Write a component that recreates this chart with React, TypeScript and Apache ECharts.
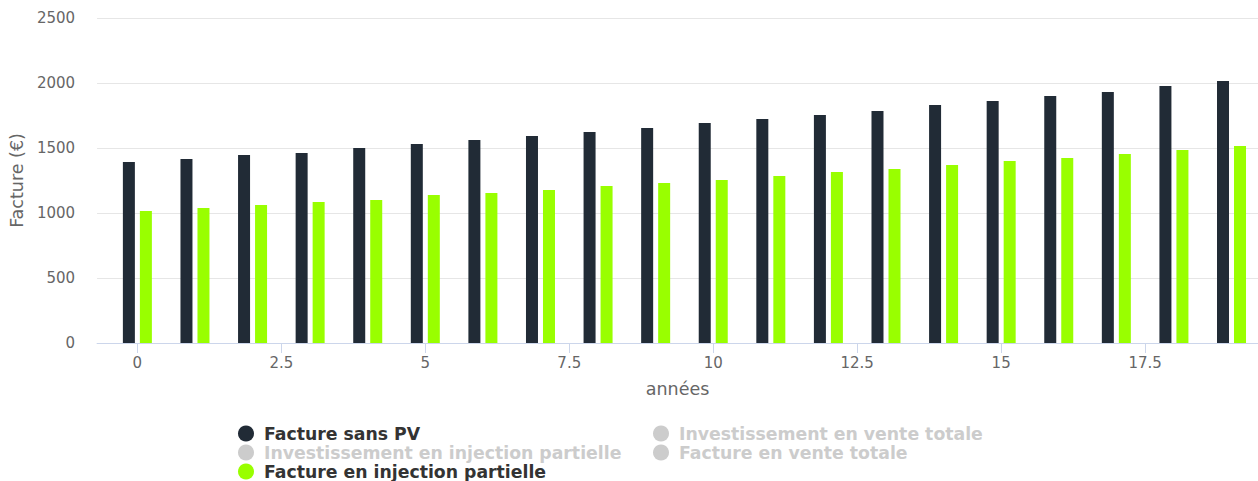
import React, { useEffect, useRef } from "react";
import * as echarts from "echarts";

const years = [0, 1, 2, 3, 4, 5, 6, 7, 8, 9, 10, 11, 12, 13, 14, 15, 16, 17, 18, 19];
const factureSansPV = [1392, 1415, 1446, 1462, 1500, 1531, 1562, 1592, 1623, 1654, 1692, 1723, 1754, 1785, 1831, 1862, 1900, 1931, 1977, 2015];
const factureInjection = [1015, 1038, 1062, 1085, 1100, 1138, 1154, 1177, 1208, 1231, 1254, 1285, 1315, 1338, 1369, 1400, 1423, 1454, 1485, 1515];
const xTicks = [0, 2.5, 5, 7.5, 10, 12.5, 15, 17.5];
const seriesNames = [
  "Facture sans PV",
  "Investissement en vente totale",
  "Investissement en injection partielle",
  "Facture en vente totale",
  "Facture en injection partielle",
];
const hiddenSeries = [seriesNames[1], seriesNames[2], seriesNames[3]];

const FONT = "DejaVu Sans";

export default function App() {
  const ref = useRef<HTMLDivElement>(null);
  useEffect(() => {
    document.body.style.margin = "0";
    const chart = echarts.init(ref.current!, null, { renderer: "svg" });
    const pairs = (vals: number[]) => years.map((x, i) => [x, vals[i]]);
    const barBase = { type: "bar", barWidth: 12, barGap: "41.7%" };
    // legend grid: [column, row] for each series, in series order
    const legendSlots = [
      [0, 0],
      [1, 0],
      [0, 1],
      [1, 1],
      [0, 2],
    ];
    const colLeft = [238, 653];
    const rowTop = [425, 444, 463];
    const legends = seriesNames.map((name, i) => ({
      icon: "circle",
      itemWidth: 16,
      itemHeight: 16,
      padding: 0,
      left: colLeft[legendSlots[i][0]],
      top: rowTop[legendSlots[i][1]],
      inactiveColor: "#cccccc",
      data: [name],
      selected: { [name]: !hiddenSeries.includes(name) },
      textStyle: {
        fontFamily: FONT,
        fontSize: 17.3,
        lineHeight: 16,
        fontWeight: "bold",
        color: "#333333",
        padding: [0, 0, 0, 5],
      },
    }));
    chart.setOption({
      animation: false,
      textStyle: { fontFamily: FONT },
      grid: { left: 97, right: 0, top: 18, bottom: 138, containLabel: false },
      legend: legends,
      xAxis: {
        type: "value",
        min: -0.7,
        max: 19.46,
        name: "années",
        nameLocation: "middle",
        nameGap: 37,
        nameTextStyle: { fontFamily: FONT, fontSize: 17.5, color: "#666666" },
        axisLine: { show: true, lineStyle: { color: "#ccd6eb" } },
        axisTick: { show: true, length: 10, lineStyle: { color: "#ccd6eb" }, customValues: xTicks },
        axisLabel: { fontFamily: FONT, fontSize: 15, color: "#666666", margin: 12, customValues: xTicks },
        splitLine: { show: false },
      },
      yAxis: {
        type: "value",
        min: 0,
        max: 2500,
        interval: 500,
        name: "Facture (€)",
        nameLocation: "middle",
        nameRotate: 90,
        nameGap: 70,
        nameTextStyle: { fontFamily: FONT, fontSize: 17.5, color: "#666666" },
        axisLine: { show: false },
        axisTick: { show: false },
        axisLabel: {
          fontFamily: FONT,
          fontSize: 15,
          color: "#666666",
          margin: 22,
          padding: [5, 0, 0, 0],
          formatter: (v: number) => String(v),
        },
        splitLine: { lineStyle: { color: "#e6e6e6", width: 1 } },
      },
      series: [
        { ...barBase, name: seriesNames[0], itemStyle: { color: "#212b36" }, data: pairs(factureSansPV) },
        { ...barBase, name: seriesNames[1], itemStyle: { color: "#7cb5ec" }, data: [] },
        { ...barBase, name: seriesNames[2], itemStyle: { color: "#90ed7d" }, data: [] },
        { ...barBase, name: seriesNames[3], itemStyle: { color: "#f7a35c" }, data: [] },
        { ...barBase, name: seriesNames[4], itemStyle: { color: "#99ff00" }, data: pairs(factureInjection) },
      ],
    });
    return () => chart.dispose();
  }, []);
  return <div ref={ref} style={{ width: 1258, height: 481 }} />;
}
